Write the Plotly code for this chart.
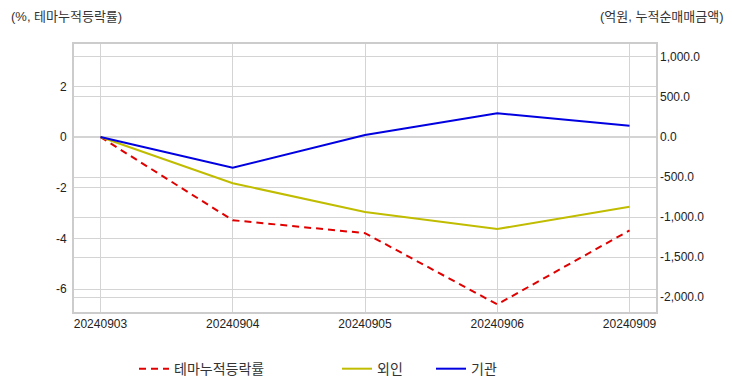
import plotly.graph_objects as go

dates = ["20240903", "20240904", "20240905", "20240906", "20240909"]
theme_rate = [0.0, -3.28, -3.79, -6.6, -3.68]
foreign = [0.0, -578.0, -937.0, -1150.0, -872.0]
institution = [0.0, -385.0, 25.0, 296.0, 141.0]

left_tickvals = [-6, -4, -2, 0, 2]
left_ticktext = ["-6", "-4", "-2", "0", "2"]
right_tickvals = [-2000, -1500, -1000, -500, 0, 500, 1000]
right_ticktext = ["-2,000.0", "-1,500.0", "-1,000.0", "-500.0", "0.0", "500.0", "1,000.0"]

FONT = "Liberation Sans, Noto Sans CJK KR"
GRID = "#d4d4d4"

fig = go.Figure()
fig.add_trace(go.Scatter(x=dates, y=theme_rate, name="테마누적등락률", mode="lines",
                         line=dict(color="#e00000", width=2, dash="7px,5px"),
                         yaxis="y", legend="legend", showlegend=True))
fig.add_trace(go.Scatter(x=dates, y=foreign, name="외인", mode="lines",
                         line=dict(color="#c0bc00", width=2),
                         yaxis="y2", legend="legend2", showlegend=True))
fig.add_trace(go.Scatter(x=dates, y=institution, name="기관", mode="lines",
                         line=dict(color="#0000e0", width=2),
                         yaxis="y2", legend="legend3", showlegend=True))


def legend_at(px):
    return dict(orientation="h", yanchor="middle", y=-0.213, xanchor="left",
                x=(px - 74) / 582, bgcolor="rgba(0,0,0,0)",
                font=dict(family=FONT, size=14, color="#333"))


fig.update_layout(
    width=732, height=392,
    showlegend=True,
    margin=dict(l=74, r=76, t=44, b=80, autoexpand=False),
    paper_bgcolor="white", plot_bgcolor="white",
    font=dict(family=FONT, size=12, color="#333"),
    xaxis=dict(type="category", range=[-0.2, 4.2], showgrid=True, gridcolor=GRID, gridwidth=1,
               showline=True, linecolor="#cccccc", linewidth=2, mirror=True,
               ticks="", tickfont=dict(size=12, color="#222"), zeroline=False),
    yaxis=dict(range=[-6.9, 3.67], tickvals=left_tickvals, ticktext=left_ticktext,
               showgrid=True, gridcolor=GRID, gridwidth=1, zeroline=False,
               showline=True, linecolor="#cccccc", linewidth=2, mirror=True,
               ticks="", ticklabelstandoff=3, tickfont=dict(size=12, color="#222")),
    yaxis2=dict(range=[-2187, 1162], tickvals=right_tickvals, ticktext=right_ticktext,
                overlaying="y", side="right", showgrid=True, gridcolor=GRID, gridwidth=1,
                zeroline=False, ticks="", ticklabelstandoff=3,
                tickfont=dict(size=12, color="#222")),
    legend=legend_at(134),
    legend2=legend_at(337),
    legend3=legend_at(431),
    annotations=[
        dict(text="(%, 테마누적등락률)", xref="paper", yref="paper", x=0, y=1.0,
             xshift=-65, yshift=28, xanchor="left", yanchor="middle", showarrow=False,
             font=dict(family=FONT, size=13, color="#333")),
        dict(text="(억원, 누적순매매금액)", xref="paper", yref="paper", x=1.0, y=1.0,
             xshift=70, yshift=28, xanchor="right", yanchor="middle", showarrow=False,
             font=dict(family=FONT, size=13, color="#333")),
    ],
)

fig.write_html("out.html", post_script="document.body.style.margin='0';",
               config={"displayModeBar": False})
